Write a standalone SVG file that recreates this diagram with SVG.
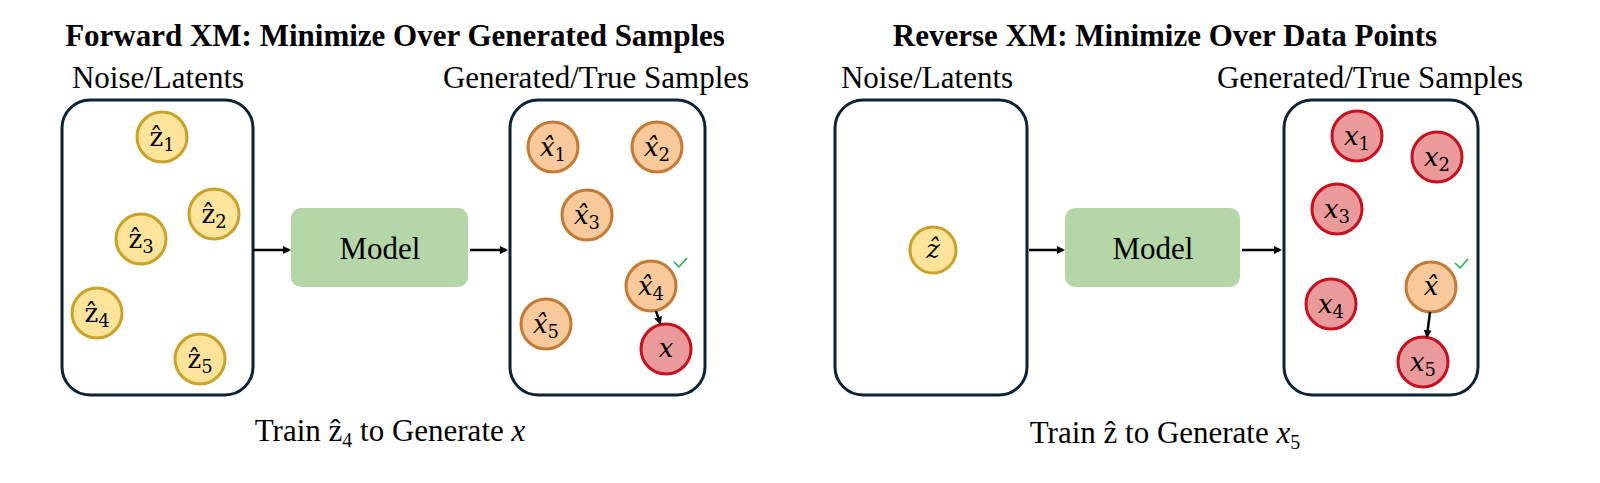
<svg xmlns="http://www.w3.org/2000/svg" width="1600" height="483" viewBox="0 0 1600 483">
<style>
.t{font-family:"Liberation Serif",serif;font-size:31px;fill:#000}
.b{font-weight:bold}
.box{fill:#fff;stroke:#0d2436;stroke-width:3}
.m{fill:#b5d6a7}
.z{fill:#fde49a;stroke:#c9a227;stroke-width:3}
.o{fill:#f8c99a;stroke:#c47a35;stroke-width:3}
.r{fill:#ea9a9a;stroke:#c8101e;stroke-width:3}
.l{font-family:"DejaVu Serif","Liberation Serif",serif;font-size:26px;text-anchor:middle}
.i{font-style:italic}
.s{font-size:18px}
.c{fill:none;stroke:#1fb04a;stroke-width:1.5}
.a{stroke:#000;stroke-width:2.5;fill:none;marker-end:url(#h)}
</style>
<defs><marker id="h" markerWidth="8" markerHeight="8" refX="6" refY="4" orient="auto" markerUnits="userSpaceOnUse"><path d="M0,0L8,4L0,8z" fill="#000"/></marker></defs>
<text class="t b" x="395" y="46" text-anchor="middle">Forward XM: Minimize Over Generated Samples</text>
<text class="t b" x="1165" y="46" text-anchor="middle">Reverse XM: Minimize Over Data Points</text>
<text class="t" x="158" y="88" text-anchor="middle">Noise/Latents</text>
<text class="t" x="596" y="88" text-anchor="middle">Generated/True Samples</text>
<text class="t" x="927" y="88" text-anchor="middle">Noise/Latents</text>
<text class="t" x="1370" y="88" text-anchor="middle">Generated/True Samples</text>
<text class="t" x="390" y="441" text-anchor="middle">Train ẑ<tspan font-size="20" dy="6">4</tspan><tspan dy="-6"> to Generate </tspan><tspan font-style="italic">x</tspan></text>
<text class="t" x="1165" y="443" text-anchor="middle">Train ẑ to Generate <tspan font-style="italic">x</tspan><tspan font-size="20" dy="6">5</tspan></text>
<g id="L1"><rect class="box" x="62" y="100" width="191" height="295" rx="28"/></g>
<g id="M1"><rect class="m" x="291" y="208" width="177" height="79" rx="10"/><text class="t" x="380" y="259" text-anchor="middle">Model</text></g>
<g id="R1"><rect class="box" x="510" y="100" width="195" height="295" rx="28"/></g>
<g id="L2"><rect class="box" x="835" y="100" width="192" height="295" rx="28"/></g>
<g id="M2"><rect class="m" x="1065" y="208" width="175" height="79" rx="10"/><text class="t" x="1153" y="259" text-anchor="middle">Model</text></g>
<g id="R2"><rect class="box" x="1284" y="100" width="194" height="295" rx="28"/></g>
<g id="nodes">
<g id="z1"><circle class="z" cx="162" cy="137" r="25"/><text class="l" x="162" y="146">ẑ<tspan class="s" dy="5">1</tspan></text></g>
<g id="z2"><circle class="z" cx="214" cy="214" r="25"/><text class="l" x="214" y="223">ẑ<tspan class="s" dy="5">2</tspan></text></g>
<g id="z3"><circle class="z" cx="141" cy="239" r="25"/><text class="l" x="141" y="248">ẑ<tspan class="s" dy="5">3</tspan></text></g>
<g id="z4"><circle class="z" cx="97" cy="313" r="25"/><text class="l" x="97" y="322">ẑ<tspan class="s" dy="5">4</tspan></text></g>
<g id="z5"><circle class="z" cx="200" cy="359" r="25"/><text class="l" x="200" y="368">ẑ<tspan class="s" dy="5">5</tspan></text></g>
<g id="x1h"><circle class="o" cx="553" cy="147" r="25"/><text class="l i" x="553" y="156">x̂<tspan class="s" font-style="normal" dy="5">1</tspan></text></g>
<g id="x2h"><circle class="o" cx="657" cy="147" r="25"/><text class="l i" x="657" y="156">x̂<tspan class="s" font-style="normal" dy="5">2</tspan></text></g>
<g id="x3h"><circle class="o" cx="587" cy="215" r="25"/><text class="l i" x="587" y="224">x̂<tspan class="s" font-style="normal" dy="5">3</tspan></text></g>
<g id="x4h"><circle class="o" cx="651" cy="286" r="25"/><text class="l i" x="651" y="295">x̂<tspan class="s" font-style="normal" dy="5">4</tspan></text><path class="c" d="M674,262l5,5l8,-9"/></g>
<g id="x5h"><circle class="o" cx="546" cy="324" r="25"/><text class="l i" x="546" y="333">x̂<tspan class="s" font-style="normal" dy="5">5</tspan></text></g>
<g id="xr"><circle class="r" cx="666" cy="349" r="25"/><text class="l i" x="666" y="357">x</text></g>
<g id="zh"><circle class="z" cx="933" cy="250" r="23"/><text class="l i" x="933" y="258">ẑ</text></g>
<g id="rx1"><circle class="r" cx="1357" cy="136" r="25"/><text class="l i" x="1357" y="145">x<tspan class="s" font-style="normal" dy="5">1</tspan></text></g>
<g id="rx2"><circle class="r" cx="1437" cy="157" r="25"/><text class="l i" x="1437" y="166">x<tspan class="s" font-style="normal" dy="5">2</tspan></text></g>
<g id="rx3"><circle class="r" cx="1337" cy="209" r="25"/><text class="l i" x="1337" y="218">x<tspan class="s" font-style="normal" dy="5">3</tspan></text></g>
<g id="rx4"><circle class="r" cx="1331" cy="304" r="25"/><text class="l i" x="1331" y="313">x<tspan class="s" font-style="normal" dy="5">4</tspan></text></g>
<g id="rxh"><circle class="o" cx="1431" cy="287" r="25"/><text class="l i" x="1431" y="295">x̂</text><path class="c" d="M1455,263l5,5l8,-9"/></g>
<g id="rx5"><circle class="r" cx="1423" cy="362" r="25"/><text class="l i" x="1423" y="371">x<tspan class="s" font-style="normal" dy="5">5</tspan></text></g>
</g>
<g id="connectors">
<path class="a" d="M253,250H289"/>
<path class="a" d="M470,250H506"/>
<path class="a" d="M1029,250H1063"/>
<path class="a" d="M1242,250H1280"/>
<path class="a" d="M656,311L660,323"/>
<path class="a" d="M1430,312L1427,336"/>
</g>
</svg>
